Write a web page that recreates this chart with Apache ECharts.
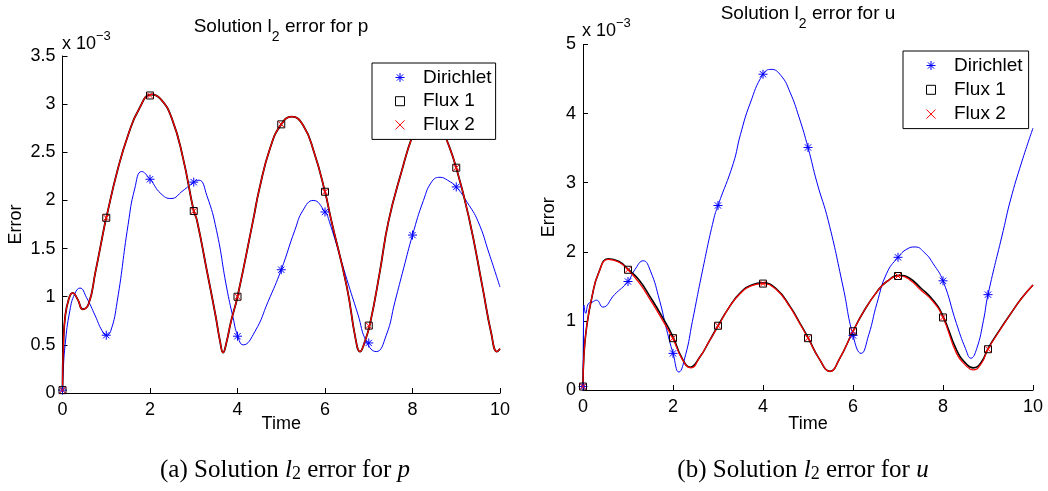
<!DOCTYPE html>
<html>
<head>
<meta charset="utf-8">
<script src="https://cdn.jsdelivr.net/npm/echarts@6/dist/echarts.min.js"></script>
<style>
  html, body { margin: 0; padding: 0; background: #fff; }
  #chart { width: 1048px; height: 491px; }
</style>
</head>
<body>
<div id="chart"></div>
<script>
// ---------- data (values in units of 1e-3) ----------
const markerTimes = [0, 1, 2, 3, 4, 5, 6, 7, 8, 9];
const xTicks = [0, 2, 4, 6, 8, 10];

// (a) error for p : marker values at integer times
const pDirichletMarks = [0.03, 0.60, 2.22, 2.19, 0.59, 1.28, 1.88, 0.52, 1.64, 2.14];
const pFlux1Marks     = [0.03, 1.82, 3.09, 1.89, 1.00, 2.79, 2.09, 0.70, 2.67, 2.34];
const pFlux2Marks     = [0.03, 1.82, 3.09, 1.89, 1.00, 2.79, 2.09, 0.70, 2.67, 2.34];

// (a) continuous curves: [time, error]
const pDirichletCurve = [[0,0.03],[0.01,0.17],[0.06,0.50],[0.17,0.86],[0.28,1.03],[0.40,1.09],[0.55,0.99],[0.75,0.80],[0.9,0.65],[1.0,0.60],[1.1,0.64],[1.25,0.95],[1.5,1.75],[1.65,2.12],[1.81,2.30],[2.0,2.22],[2.25,2.07],[2.48,2.02],[2.75,2.10],[3.0,2.19],[3.12,2.21],[3.3,2.05],[3.52,1.69],[3.75,1.10],[3.9,0.78],[4.0,0.60],[4.13,0.50],[4.4,0.64],[4.7,0.95],[5.0,1.28],[5.31,1.69],[5.5,1.90],[5.73,2.00],[6.0,1.88],[6.1,1.78],[6.5,1.18],[6.75,0.82],[6.95,0.53],[7.17,0.43],[7.4,0.60],[7.6,0.95],[7.8,1.30],[8.0,1.64],[8.25,2.00],[8.45,2.20],[8.63,2.24],[8.8,2.21],[9.0,2.14],[9.25,1.98],[9.5,1.78],[9.75,1.45],[10,1.10]];
const pFlux1Curve = [[0,0.03],[0.02,0.50],[0.06,0.79],[0.14,0.97],[0.23,1.04],[0.35,0.97],[0.46,0.87],[0.6,0.93],[0.75,1.25],[0.97,1.76],[1.0,1.82],[1.25,2.30],[1.5,2.68],[1.75,2.95],[2.03,3.10],[2.25,3.05],[2.5,2.85],[2.75,2.45],[3.0,1.89],[3.07,1.80],[3.3,1.27],[3.5,0.80],[3.6,0.54],[3.67,0.42],[3.75,0.53],[3.85,0.74],[4.0,1.00],[4.36,1.80],[4.5,2.12],[4.75,2.55],[5.0,2.79],[5.24,2.87],[5.5,2.78],[5.75,2.50],[6.0,2.09],[6.14,1.80],[6.5,1.10],[6.7,0.56],[6.8,0.43],[6.9,0.52],[7.03,0.72],[7.25,1.25],[7.45,1.78],[7.75,2.30],[8.0,2.67],[8.2,2.85],[8.4,2.92],[8.6,2.84],[8.74,2.68],[9.0,2.34],[9.3,1.80],[9.6,1.10],[9.8,0.62],[9.93,0.43],[10,0.46]];
const pFlux2Curve = [[0,0.03],[0.02,0.50],[0.06,0.79],[0.14,0.97],[0.23,1.04],[0.35,0.97],[0.46,0.87],[0.6,0.93],[0.75,1.25],[0.97,1.76],[1.0,1.82],[1.25,2.30],[1.5,2.68],[1.75,2.95],[2.03,3.10],[2.25,3.05],[2.5,2.85],[2.75,2.45],[3.0,1.89],[3.07,1.80],[3.3,1.27],[3.5,0.80],[3.6,0.54],[3.67,0.42],[3.75,0.53],[3.85,0.74],[4.0,1.00],[4.36,1.80],[4.5,2.12],[4.75,2.55],[5.0,2.79],[5.24,2.87],[5.5,2.78],[5.75,2.50],[6.0,2.09],[6.14,1.80],[6.5,1.10],[6.7,0.56],[6.8,0.43],[6.9,0.52],[7.03,0.72],[7.25,1.25],[7.45,1.78],[7.75,2.30],[8.0,2.67],[8.2,2.85],[8.4,2.92],[8.6,2.84],[8.74,2.68],[9.0,2.34],[9.3,1.80],[9.6,1.10],[9.8,0.62],[9.93,0.43],[10,0.46]];

// (b) error for u : marker values at integer times
const uDirichletMarks = [0.05, 1.57, 0.53, 2.67, 4.57, 3.51, 0.79, 1.92, 1.58, 1.38];
const uFlux1Marks     = [0.05, 1.74, 0.75, 0.93, 1.54, 0.75, 0.85, 1.65, 1.05, 0.59];
const uFlux2Marks     = [0.05, 1.74, 0.75, 0.93, 1.54, 0.75, 0.85, 1.65, 1.05, 0.59];

// (b) continuous curves: [time, error]
const uDirichletCurve = [[0,0.05],[0.01,0.90],[0.02,1.23],[0.06,1.11],[0.12,1.25],[0.2,1.27],[0.3,1.30],[0.44,1.20],[0.7,1.38],[1.0,1.57],[1.15,1.74],[1.34,1.87],[1.5,1.72],[1.7,1.30],[1.86,0.87],[2.0,0.53],[2.13,0.26],[2.28,0.51],[2.43,0.99],[2.65,1.71],[2.9,2.46],[3.0,2.67],[3.34,3.28],[3.5,3.70],[3.71,4.14],[4.0,4.57],[4.18,4.64],[4.4,4.55],[4.6,4.31],[4.8,3.95],[5.0,3.51],[5.2,3.00],[5.45,2.45],[5.78,1.49],[6.0,0.79],[6.18,0.53],[6.35,0.80],[6.53,1.25],[6.75,1.69],[7.0,1.92],[7.2,2.04],[7.38,2.07],[7.6,1.98],[7.78,1.83],[8.0,1.58],[8.3,0.96],[8.5,0.60],[8.62,0.46],[8.75,0.60],[8.9,1.01],[9.0,1.38],[9.34,2.31],[9.5,2.75],[9.75,3.30],[10,3.79]];
const uFlux1Curve = [[0,0.05],[0.02,0.50],[0.08,0.91],[0.2,1.35],[0.35,1.70],[0.56,1.90],[0.8,1.86],[1.0,1.75],[1.25,1.59],[1.5,1.34],[1.75,1.07],[2.0,0.77],[2.2,0.46],[2.38,0.33],[2.6,0.48],[2.8,0.70],[3.0,0.93],[3.25,1.20],[3.5,1.41],[3.75,1.52],[3.99,1.55],[4.3,1.46],[4.6,1.21],[4.8,0.99],[5.0,0.76],[5.25,0.45],[5.49,0.27],[5.7,0.45],[6.0,0.85],[6.25,1.15],[6.53,1.42],[6.75,1.57],[7.04,1.66],[7.25,1.62],[7.5,1.48],[7.78,1.30],[8.0,1.07],[8.3,0.58],[8.5,0.39],[8.67,0.32],[8.85,0.40],[9.0,0.60],[9.25,0.86],[9.5,1.10],[9.75,1.33],[10,1.52]];
const uFlux2Curve = [[0,0.05],[0.02,0.50],[0.08,0.91],[0.2,1.35],[0.35,1.70],[0.56,1.89],[0.8,1.85],[1.0,1.74],[1.25,1.55],[1.5,1.30],[1.75,1.03],[2.0,0.74],[2.2,0.45],[2.4,0.32],[2.6,0.48],[2.8,0.70],[3.0,0.92],[3.25,1.20],[3.5,1.40],[3.75,1.51],[3.99,1.54],[4.3,1.45],[4.6,1.20],[4.8,0.98],[5.0,0.75],[5.25,0.45],[5.49,0.27],[5.7,0.45],[6.0,0.85],[6.25,1.15],[6.53,1.42],[6.75,1.57],[7.04,1.65],[7.25,1.60],[7.5,1.45],[7.78,1.28],[8.0,1.05],[8.3,0.53],[8.5,0.36],[8.67,0.29],[8.85,0.38],[9.0,0.59],[9.25,0.85],[9.5,1.10],[9.75,1.33],[10,1.52]];

const legendNames = ['Dirichlet', 'Flux 1', 'Flux 2'];

// ---------- styling ----------
const SANS = 'Liberation Sans, Arial, Helvetica, sans-serif';
const SERIF = 'Liberation Serif, Times New Roman, serif';
const BLUE = '#0000ff', RED = '#ff0000', BLACK = '#000000';
const STAR = 'path://M5,0L5,10M0,5L10,5M1.5,1.5L8.5,8.5M1.5,8.5L8.5,1.5';
const CROSS = 'path://M0,0L10,10M0,10L10,0';
const SQUARE = 'path://M0,0L10,0L10,10L0,10Z';

function pairs(vals) { return markerTimes.map((t, i) => [t, vals[i]]); }

function xAxisCfg(grid, gap) {
  return {
    gridIndex: grid, type: 'value', min: 0, max: 10, interval: 2,
    name: 'Time', nameLocation: 'middle', nameGap: gap, nameMoveOverlap: false,
    nameTextStyle: { fontSize: 18, color: '#000', fontFamily: SANS },
    axisLine: { show: true, onZero: false, lineStyle: { color: '#000', width: 1 } },
    axisTick: { show: true, inside: true, length: 5, lineStyle: { color: '#000' } },
    axisLabel: { fontSize: 18, color: '#000', fontFamily: SANS, margin: 8 },
    splitLine: { show: false }
  };
}
function yAxisCfg(grid, max, interval, gap) {
  return {
    gridIndex: grid, type: 'value', min: 0, max: max, interval: interval,
    name: 'Error', nameLocation: 'middle', nameGap: gap, nameRotate: 90, nameMoveOverlap: false,
    nameTextStyle: { fontSize: 18, color: '#000', fontFamily: SANS },
    axisLine: { show: true, onZero: false, lineStyle: { color: '#000', width: 1 } },
    axisTick: { show: true, inside: true, length: 5, lineStyle: { color: '#000' } },
    axisLabel: { fontSize: 18, color: '#000', fontFamily: SANS, margin: 7 },
    splitLine: { show: false }
  };
}
function curve(name, idx, data, color, width) {
  return {
    name: name, type: 'line', xAxisIndex: idx, yAxisIndex: idx, data: data,
    showSymbol: false, smooth: 0.5,
    lineStyle: { color: color, width: width }, itemStyle: { color: color },
    silent: true, z: 2
  };
}
function marks(name, idx, data, symbol, size, color, bw) {
  return {
    name: name, type: 'scatter', xAxisIndex: idx, yAxisIndex: idx, data: data,
    symbol: symbol, symbolSize: size,
    itemStyle: { color: 'none', borderColor: color, borderWidth: bw, opacity: 1 },
    z: 3
  };
}
function legendCfg(left, top, gap, padRight) {
  return {
    orient: 'vertical', left: left, top: top,
    padding: [5, padRight, 5, 21], itemWidth: 36, itemHeight: 9, itemGap: gap,
    backgroundColor: '#fff', borderColor: '#000', borderWidth: 1, borderRadius: 0,
    selectedMode: false,
    textStyle: { fontSize: 19, color: '#000', fontFamily: SANS, lineHeight: 18 },
    data: [
      { name: legendNames[0], icon: STAR, itemStyle: { color: 'none', borderColor: BLUE, borderWidth: 1 } },
      { name: legendNames[1], icon: SQUARE, itemStyle: { color: 'none', borderColor: BLACK, borderWidth: 1 } },
      { name: legendNames[2], icon: CROSS, itemStyle: { color: 'none', borderColor: RED, borderWidth: 1 } }
    ]
  };
}
function titleText(x, y, label) {
  return {
    type: 'text', x: x, y: y, silent: true,
    style: {
      text: 'Solution l{s|2} error for ' + label, fontSize: 19, fontFamily: SANS, fill: '#000',
      lineHeight: 19, align: 'center', verticalAlign: 'middle',
      rich: { s: { fontSize: 14, lineHeight: 14, fontFamily: SANS, padding: [20, 0, 0, 0] } }
    }
  };
}
function expText(x, y) {
  return {
    type: 'text', x: x, y: y, silent: true,
    style: {
      text: 'x 10{e|\u22123}', fontSize: 18, fontFamily: SANS, fill: '#000',
      lineHeight: 18, align: 'left', verticalAlign: 'middle',
      rich: { e: { fontSize: 13, lineHeight: 13, fontFamily: SANS, padding: [0, 0, 16, 0] } }
    }
  };
}
function captionText(x, y, tag, v) {
  return {
    type: 'text', x: x, y: y, silent: true,
    style: {
      text: '(' + tag + ') Solution {i|l}{s|2} error for {i|' + v + '}', fontSize: 25, fontFamily: SERIF, fill: '#000',
      lineHeight: 25, align: 'center', verticalAlign: 'middle',
      rich: {
        i: { fontSize: 25, lineHeight: 25, fontFamily: SERIF, fontStyle: 'italic' },
        s: { fontSize: 18, lineHeight: 18, fontFamily: SERIF, padding: [9, 0, 0, 0] }
      }
    }
  };
}

const option = {
  animation: false,
  backgroundColor: '#fff',
  grid: [
    { left: 62.5, top: 56, width: 437.5, height: 337 },
    { left: 583, top: 44.5, width: 450, height: 345.5 }
  ],
  xAxis: [xAxisCfg(0, 22), xAxisCfg(1, 25)],
  yAxis: [yAxisCfg(0, 3.5, 0.5, 37), yAxisCfg(1, 5, 1, 25)],
  legend: [legendCfg(372, 63, 4.7, 4), legendCfg(903, 51, 5.3, 6)],
  series: [
    curve('p Dirichlet curve', 0, pDirichletCurve, BLUE, 1),
    curve('p Flux 1 curve', 0, pFlux1Curve, BLACK, 1.8),
    curve('p Flux 2 curve', 0, pFlux2Curve, RED, 1.2),
    marks(legendNames[0], 0, pairs(pDirichletMarks), STAR, 9, BLUE, 1),
    marks(legendNames[1], 0, pairs(pFlux1Marks), SQUARE, 7, BLACK, 1),
    marks(legendNames[2], 0, pairs(pFlux2Marks), CROSS, 6, RED, 1),
    curve('u Dirichlet curve', 1, uDirichletCurve, BLUE, 1),
    curve('u Flux 1 curve', 1, uFlux1Curve, BLACK, 1.6),
    curve('u Flux 2 curve', 1, uFlux2Curve, RED, 1.2),
    marks(legendNames[0], 1, pairs(uDirichletMarks), STAR, 9, BLUE, 1),
    marks(legendNames[1], 1, pairs(uFlux1Marks), SQUARE, 7, BLACK, 1),
    marks(legendNames[2], 1, pairs(uFlux2Marks), CROSS, 6, RED, 1)
  ],
  graphic: [
    titleText(281, 27, 'p'),
    titleText(808, 14, 'u'),
    expText(62, 44),
    expText(582, 31),
    captionText(285, 470, 'a', 'p'),
    captionText(803, 470, 'b', 'u')
  ]
};

const chart = echarts.init(document.getElementById('chart'), null, { renderer: 'canvas' });
chart.setOption(option);
</script>
</body>
</html>
